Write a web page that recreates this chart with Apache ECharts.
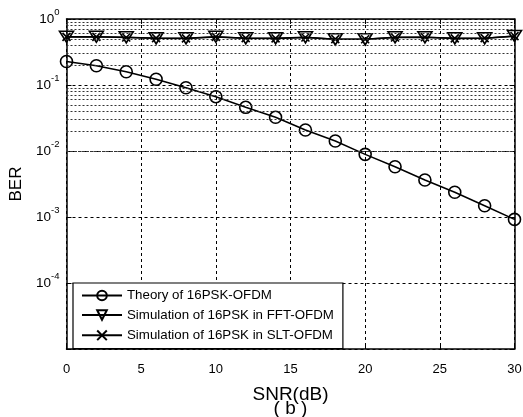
<!DOCTYPE html>
<html>
<head>
<meta charset="utf-8">
<script src="https://cdn.jsdelivr.net/npm/echarts@6/dist/echarts.min.js"></script>
<style>
html,body{margin:0;padding:0;background:#fff;}
#chart{width:523px;height:417px;}
</style>
</head>
<body>
<div id="chart"></div>
<script>
// ---- data ----
const snr = [0, 2, 4, 6, 8, 10, 12, 14, 16, 18, 20, 22, 24, 26, 28, 30];
const theory = [0.227, 0.196, 0.159, 0.122, 0.091, 0.0665, 0.0459, 0.0324, 0.0208, 0.0142, 0.0089, 0.00578, 0.00364, 0.00237, 0.00148, 0.00092];
const fftSim = [0.539, 0.539, 0.528, 0.510, 0.510, 0.539, 0.510, 0.510, 0.528, 0.492, 0.492, 0.528, 0.528, 0.510, 0.510, 0.553];
const sltSim = [0.535, 0.536, 0.525, 0.512, 0.508, 0.535, 0.512, 0.508, 0.525, 0.495, 0.494, 0.525, 0.530, 0.508, 0.512, 0.550];
const seriesNames = ['Theory of 16PSK-OFDM', 'Simulation of 16PSK in FFT-OFDM', 'Simulation of 16PSK in SLT-OFDM'];
const decades = [-5, -4, -3, -2, -1];
const minorMultipliers = [2, 3, 4, 5, 6, 7, 8, 9];

const minorLines = [];
decades.forEach(e => minorMultipliers.forEach(m => minorLines.push({yAxis: m * Math.pow(10, e)})));

const FONT = 'Liberation Sans, Arial, sans-serif';
const chart = echarts.init(document.getElementById('chart'), null, {renderer: 'canvas'});
const cross = 'path://M0,0L10,10M10,0L0,10';

chart.setOption({
  backgroundColor: '#fff',
  animation: false,
  textStyle: {fontFamily: FONT, color: '#000'},
  grid: {left: 66.5, right: 8.5, top: 19, bottom: 68, containLabel: false, outerBoundsMode: 'none'},
  legend: {
    orient: 'vertical', left: 73, top: 283,
    width: 270,
    backgroundColor: '#fff', borderColor: '#000', borderWidth: 1.2, borderRadius: 0,
    padding: [6, 9, 6, 8],
    itemWidth: 40, itemHeight: 12, itemGap: 6.5,
    textStyle: {fontFamily: FONT, fontSize: 13.3, color: '#000', padding: [0, 0, 0, 0]},
    data: seriesNames.map(n => ({name: n})),
    z: 10
  },
  xAxis: [{
    type: 'value', min: 0, max: 30, interval: 5, position: 'bottom',
    name: 'SNR(dB)\n( b )', nameLocation: 'middle', nameGap: 39,
    nameTextStyle: {fontFamily: FONT, fontSize: 19, color: '#000', lineHeight: 14},
    axisLine: {show: true, onZero: false, lineStyle: {color: '#000', width: 1.5}},
    axisTick: {show: true, inside: true, length: 5, lineStyle: {color: '#000'}},
    axisLabel: {fontFamily: FONT, fontSize: 13, color: '#000', margin: 14},
    splitLine: {show: true, lineStyle: {color: '#000', type: [3, 3], width: 1}}
  }, {
    type: 'value', min: 0, max: 30, interval: 5, position: 'top',
    axisLine: {show: true, onZero: false, lineStyle: {color: '#000', width: 1.5}},
    axisTick: {show: true, inside: true, length: 5, lineStyle: {color: '#000'}},
    axisLabel: {show: false}, splitLine: {show: false}
  }],
  yAxis: [{
    type: 'log', logBase: 10, min: 1e-5, max: 1,
    name: 'BER', nameLocation: 'middle', nameGap: 34,
    nameTextStyle: {fontFamily: FONT, fontSize: 17, color: '#000'},
    axisLine: {show: true, onZero: false, lineStyle: {color: '#000', width: 1.5}},
    axisTick: {show: true, inside: true, length: 5, lineStyle: {color: '#000'}},
    axisLabel: {
      margin: 7,
      formatter: function (v) {
        const e = Math.round(Math.log10(v));
        if (e === -5) return '';
        return '{b|10}{s|' + e + '}';
      },
      rich: {
        b: {fontFamily: FONT, fontSize: 13.5, lineHeight: 13, color: '#000'},
        s: {fontFamily: FONT, fontSize: 9.5, lineHeight: 10, color: '#000', padding: [0, 0, 14, 0]}
      }
    },
    splitLine: {show: true, lineStyle: {color: '#000', type: [3, 3], width: 1}}
  }, {
    type: 'log', logBase: 10, min: 1e-5, max: 1, position: 'right',
    axisLine: {show: true, onZero: false, lineStyle: {color: '#000', width: 1.5}},
    axisTick: {show: true, inside: true, length: 5, lineStyle: {color: '#000'}},
    axisLabel: {show: false}, splitLine: {show: false}
  }],
  series: [{
    name: 'minorGrid', type: 'line', data: [], z: 1, silent: true,
    markLine: {
      silent: true, symbol: ['none', 'none'], animation: false,
      label: {show: false},
      lineStyle: {color: '#333', type: [2, 2], width: 1},
      data: minorLines
    }
  }, {
    name: seriesNames[0], type: 'line', z: 4,
    data: snr.map((x, i) => [x, theory[i]]),
    symbol: 'circle', symbolSize: 12,
    lineStyle: {color: '#000', width: 1.5},
    itemStyle: {color: 'rgba(255,255,255,0)', borderColor: '#000', borderWidth: 1.6}
  }, {
    name: seriesNames[1], type: 'line', z: 4,
    data: snr.map((x, i) => [x, fftSim[i]]),
    symbol: 'triangle', symbolRotate: 180, symbolSize: [14, 11],
    lineStyle: {color: '#000', width: 1.5},
    itemStyle: {color: 'rgba(255,255,255,0)', borderColor: '#000', borderWidth: 1.6}
  }, {
    name: seriesNames[2], type: 'line', z: 4,
    data: snr.map((x, i) => [x, sltSim[i]]),
    symbol: cross, symbolSize: 8,
    lineStyle: {color: '#000', width: 1.5},
    itemStyle: {color: 'none', borderColor: '#000', borderWidth: 1.6}
  }]
});
</script>
</body>
</html>
